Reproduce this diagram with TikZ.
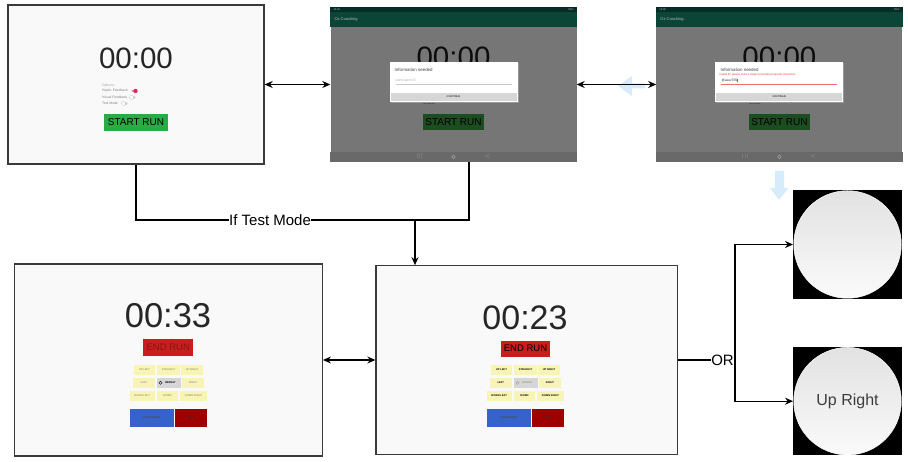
\documentclass[tikz,border=0pt]{standalone}
\usepackage{fontspec}
\setmainfont{Liberation Sans}
\usetikzlibrary{arrows.meta,positioning}

\definecolor{screenbg}{HTML}{F9F9F9}
\definecolor{frame}{HTML}{3A3A3A}
\definecolor{clockgray}{HTML}{262626}
\definecolor{startgreen}{HTML}{2AAC44}
\definecolor{dimgreen}{HTML}{1B4D20}
\definecolor{overlay}{HTML}{767676}
\definecolor{navbar}{HTML}{696969}
\definecolor{appbar}{HTML}{0B4537}
\definecolor{statusbar}{HTML}{052E26}
\definecolor{endred}{HTML}{C81E1E}
\definecolor{endtext}{HTML}{8A1414}
\definecolor{padyellow}{HTML}{F8F4B4}
\definecolor{padgray}{HTML}{D6D6D6}
\definecolor{padfaint}{HTML}{A3A180}
\definecolor{cpblue}{HTML}{3563C9}
\definecolor{exitred}{HTML}{9E0000}
\definecolor{hint}{HTML}{D6ECFA}
\definecolor{errred}{HTML}{E8323C}
\definecolor{toggle}{HTML}{E0245E}
\definecolor{balltop}{HTML}{E2E2E2}
\definecolor{ballbot}{HTML}{FAFAFA}
\definecolor{uprt}{HTML}{3D3D3D}

% direction pad of a running screen: #1 name, #2 centre x, #3 text, #4 repeat text
\newcommand{\keypad}[4]{%
  \foreach \dx/\dy/\w/\lab [count=\nm] in {-24/370/21/UP LEFT,0/370/22.7/STRAIGHT,23.5/370/21.7/UP RIGHT,
      -24.7/382.7/21.7/LEFT,24.5/382.7/21.7/RIGHT,
      -26.3/395.5/25/DOWN LEFT,-1/395.5/21.3/DOWN,25/395.5/27.3/DOWN RIGHT}
    \node[pad,text=#3,minimum width=\w] (p#1\nm) at ({#2+\dx},\dy) {\lab};
  \node[pad,fill=padgray,text=#4,minimum width=24] (rep#1) at (#2,382.7) {\hspace{4pt}REPEAT};
  \draw[#4,line width=0.4pt] ({#2-8},382.7) circle (1.6);
  \node[pad,fill=cpblue,text=black!70,minimum width=44.3,minimum height=18.5] (cp#1) at ({#2-16.7},418) {CHECKPOINT};
  \node[pad,fill=exitred,text=black!80,minimum width=31.7,minimum height=18.5] (ex#1) at ({#2+22.7},418) {EXIT};
}

\begin{document}
\begin{tikzpicture}[x=1pt,y=-1pt,
    >={Stealth[length=8pt,width=7pt]},
    screen/.style={draw=frame,fill=screenbg,line width=1.3pt,inner sep=0pt},
    shot/.style={fill=overlay,inner sep=0pt,minimum width=246,minimum height=154.4},
    clock/.style={text=clockgray,inner sep=0pt},
    runbtn/.style={inner sep=0pt,minimum width=61.3,minimum height=16,font=\fontsize{10}{10}\selectfont},
    tiny/.style={inner sep=0pt,font=\fontsize{3.4}{4}\selectfont},
    pad/.style={fill=padyellow,inner sep=0pt,minimum height=10,font=\fontsize{2.6}{3}\selectfont\bfseries},
    lbl/.style={fill=white,inner sep=0.5pt,font=\fontsize{15}{15}\selectfont},
    photo/.style={fill=black,inner sep=0pt,minimum size=108.5},
    ball/.style={circle,inner sep=0pt,minimum size=107.5,top color=balltop,bottom color=ballbot,draw=white,line width=0.5pt}]

  \useasboundingbox (0,0) rectangle (908,462);

  %% start screen
  \node[screen,minimum width=256,minimum height=159] (1) at (136,84.5) {};
  \node[clock,font=\fontsize{29.5}{30}\selectfont] (1t) at (136,58) {00:00};
  \node[tiny,anchor=west,text=gray!70] (1o) at (102,86) {Options:};
  \node[tiny,anchor=west,text=gray] (1h) at (102,91) {Haptic Feedback};
  \node[tiny,anchor=west,text=gray] (1v) at (102,97.5) {Visual Feedback};
  \node[tiny,anchor=west,text=gray] (1m) at (102,103.5) {Test Mode};
  \draw[toggle!50,line width=2.4pt,line cap=round] (132.5,91) -- (135.5,91);
  \fill[toggle] (135.5,91) circle (2.2);
  \draw[gray!35,line width=2.4pt,line cap=round] (131.5,97.5) -- (134.5,97.5);
  \filldraw[fill=white,draw=gray!50,line width=0.3pt] (131.5,97.5) circle (2);
  \draw[gray!35,line width=2.4pt,line cap=round] (123.5,103.5) -- (126.5,103.5);
  \filldraw[fill=white,draw=gray!50,line width=0.3pt] (123.5,103.5) circle (2);
  \node[runbtn,fill=startgreen,minimum width=64,minimum height=17] (1s) at (136,122.5) {START RUN};

  %% dialog screenshots
  \node[shot] (2) at (453.5,84.5) {};
  \node[shot,right=79.5pt of 2] (3) {};
  \foreach \n/\hnt/\hcol/\rcol in {2/participant ID/gray!60/gray!45,3/@aaa 555/black!80/errred!70}{
    \fill[statusbar] (\n.north west) rectangle ([yshift=-5.4pt]\n.north east);
    \fill[appbar] ([yshift=-5.4pt]\n.north west) rectangle ([yshift=-20pt]\n.north east);
    \fill[navbar] ([yshift=10pt]\n.south west) rectangle (\n.south east);
    \node[tiny,anchor=west,text=gray!50,font=\fontsize{2.6}{3}\selectfont] (st\n) at ([xshift=3pt,yshift=-2.7pt]\n.north west) {10:30};
    \node[tiny,anchor=east,text=gray!50,font=\fontsize{2.6}{3}\selectfont] (bt\n) at ([xshift=-3pt,yshift=-2.7pt]\n.north east) {55\%};
    \node[tiny,anchor=west,text=gray!55,font=\fontsize{4}{4}\selectfont] (oz\n) at ([xshift=4pt,yshift=-12.5pt]\n.north west) {Oz Coaching};
    \node[clock,text=black!95,font=\fontsize{29.5}{30}\selectfont] (t\n) at ([yshift=27.5pt]\n.center) {00:00};
    \node[tiny,anchor=west,text=black!85,font=\fontsize{2.6}{3}\selectfont] (tm\n) at ([xshift=-31pt,yshift=-19.5pt]\n.center) {Test Mode};
    \fill[black!40] ([xshift=1pt,yshift=1pt]\n.center) ++(-64,-20) rectangle ++(128,40);
    \node[fill=white,inner sep=0pt,minimum width=128,minimum height=40] (dlg\n) at ([yshift=2.2pt]\n.center) {};
    \node[tiny,anchor=west,text=black!75,font=\fontsize{4.4}{5}\selectfont] (in\n) at ([xshift=-59pt,yshift=14.5pt]\n.center) {Information needed};
    \node[tiny,anchor=west,text=\hcol,font=\fontsize{3.4}{4}\selectfont] (id\n) at ([xshift=-58pt,yshift=3.5pt]\n.center) {\hnt};
    \draw[\rcol,line width=0.6pt] ([xshift=-58pt,yshift=0.2pt]\n.center) -- ([xshift=58pt,yshift=0.2pt]\n.center);
    \node[fill=padgray,inner sep=0pt,minimum width=126,minimum height=8,font=\fontsize{2.6}{3}\selectfont] (cn\n) at ([yshift=-12.2pt]\n.center) {CONTINUE};
    \node[runbtn,fill=dimgreen] (run\n) at ([yshift=-37.2pt]\n.center) {START RUN};
    \node[tiny,text=gray!70,font=\fontsize{4}{4}\selectfont] (nb\n) at ([xshift=-34pt,yshift=-72.2pt]\n.center) {$\vert\vert\vert$};
    \draw[gray!70,line width=0.5pt] ([yshift=-72.2pt]\n.center) circle (1.8);
    \node[tiny,text=gray!70,font=\fontsize{5}{5}\selectfont] (nk\n) at ([xshift=34pt,yshift=-72.2pt]\n.center) {$<$};
  }
  \node[tiny,anchor=west,text=errred,font=\fontsize{2.7}{3}\selectfont] (3e) at ([xshift=-60.3pt,yshift=9.8pt]3.center) {Invalid ID, please enter a single word without special characters};
  \draw[errred,line width=0.3pt] ([xshift=-42pt,yshift=5pt]3.center) -- ([xshift=-42pt,yshift=2pt]3.center);

  %% running screens
  \node[screen,minimum width=307.6,minimum height=192] (4) at (168.5,360) {};
  \node[screen,minimum width=301.3,minimum height=188.3,right=52.4pt of 4] (5) {};
  \node[clock,font=\fontsize{34.5}{35}\selectfont] (4t) at (168,316) {00:33};
  \node[clock,font=\fontsize{34}{35}\selectfont] (5t) at (525,317.5) {00:23};
  \node[runbtn,fill=endred,text=endtext,minimum width=50,minimum height=16.4,font=\fontsize{9.5}{10}\selectfont] (4e) at (168.3,347.5) {END RUN};
  \node[runbtn,fill=endred,text=black,minimum width=49,minimum height=16,font=\fontsize{9.5}{10}\selectfont] (5e) at (525.5,348.7) {END RUN};
  \keypad{4}{168.5}{padfaint}{black}
  \keypad{5}{525.5}{black}{padfaint}

  %% feedback pictures
  \node[photo] (6) at (847.5,244.5) {};
  \node[ball] (6b) at (6) {};
  \node[photo] (7) at (847.5,401.2) {};
  \node[ball,text=uprt,font=\fontsize{16}{16}\selectfont] (7b) at (7) {Up Right};

  %% hover hints
  \fill[hint] (618,86) -- (632,76) -- (632,83.5) -- (645,83.5) -- (645,88.5) -- (632,88.5) -- (632,96) -- cycle;
  \fill[hint] (779,200) -- (770,188) -- (775,188) -- (775,171) -- (784,171) -- (784,188) -- (788.5,188) -- cycle;

  %% connectors
  \begin{scope}[line width=1.2pt]
    \draw[<->] (1) -- (2);
    \draw[<->] (2) -- (3);
    \draw[<->] (4.east) -- (4.east -| 5.west);
    \coordinate (tm) at (415,220);
    \draw (1.south) |- (tm) -| ([xshift=15.5pt]2.south);
    \draw[->] (tm) -- (tm |- 5.north);
    \coordinate[xshift=57pt] (or) at (5.east);
    \draw (5) -- (or);
    \draw[->] (or) |- (6);
    \draw[->] (or) |- (7);
  \end{scope}
  \node[lbl] (tmlabel) at (270,220) {If Test Mode};
  \node[lbl] (orlabel) at (722.5,360) {OR};
\end{tikzpicture}
\end{document}
